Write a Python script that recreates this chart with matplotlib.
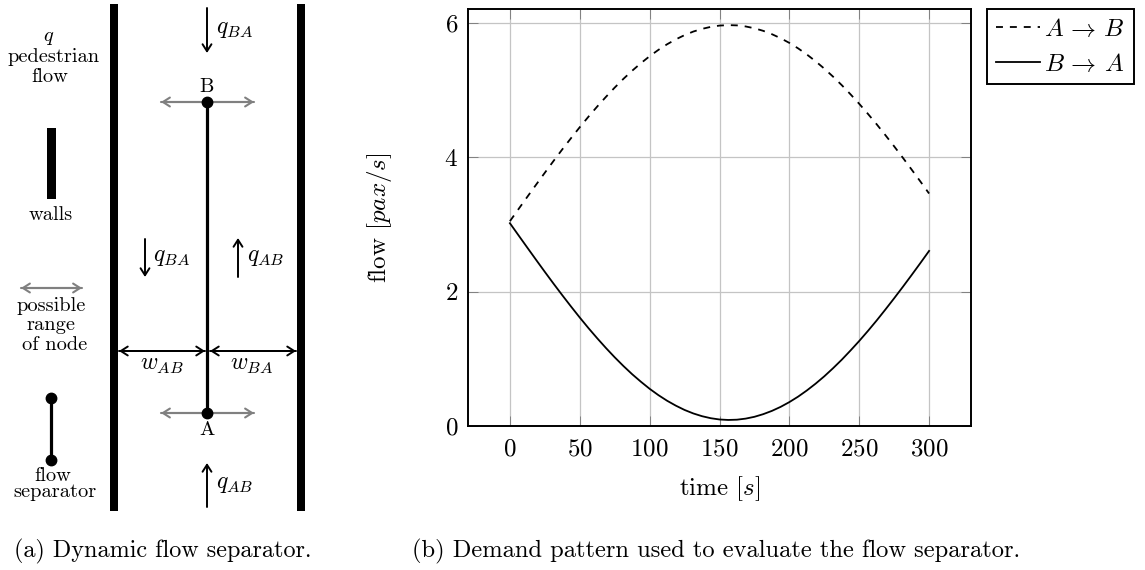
import matplotlib
matplotlib.use("Agg")
import matplotlib.pyplot as plt
from matplotlib.patches import FancyArrowPatch, Rectangle

plt.rcParams['font.family'] = ['cmr10', 'DejaVu Sans']
plt.rcParams['mathtext.fontset'] = 'cm'
plt.rcParams['axes.formatter.use_mathtext'] = True
plt.rcParams['lines.scale_dashes'] = False

# ---- chart data ----
time_s = [0, 6.25, 12.5, 18.75, 25, 31.25, 37.5, 43.75, 50, 56.25, 62.5, 68.75, 75, 81.25, 87.5, 93.75,
          100, 106.25, 112.5, 118.75, 125, 131.25, 137.5, 143.75, 150, 156.25, 162.5, 168.75, 175,
          181.25, 187.5, 193.75, 200, 206.25, 212.5, 218.75, 225, 231.25, 237.5, 243.75, 250, 256.25,
          262.5, 268.75, 275, 281.25, 287.5, 293.75, 300]
flow_ab = [3.050, 3.233, 3.414, 3.594, 3.772, 3.948, 4.120, 4.287, 4.450, 4.607, 4.758, 4.902, 5.040,
           5.170, 5.291, 5.403, 5.507, 5.601, 5.685, 5.758, 5.821, 5.874, 5.914, 5.944, 5.963, 5.970,
           5.966, 5.950, 5.923, 5.885, 5.835, 5.775, 5.705, 5.624, 5.533, 5.432, 5.322, 5.203, 5.076,
           4.940, 4.798, 4.648, 4.493, 4.331, 4.165, 3.994, 3.819, 3.642, 3.462]
flow_ba = [3.020, 2.837, 2.655, 2.474, 2.295, 2.119, 1.947, 1.779, 1.615, 1.457, 1.306, 1.161, 1.023,
           0.893, 0.771, 0.659, 0.554, 0.460, 0.376, 0.303, 0.239, 0.187, 0.146, 0.116, 0.097, 0.090,
           0.094, 0.110, 0.137, 0.176, 0.225, 0.285, 0.356, 0.437, 0.529, 0.630, 0.740, 0.860, 0.987,
           1.124, 1.266, 1.416, 1.572, 1.735, 1.902, 2.073, 2.248, 2.426, 2.607]
x_ticks = [0, 50, 100, 150, 200, 250, 300]
y_ticks = [0, 2, 4, 6]

# ---- diagram geometry (pixel coordinates of the schematic) ----
walls = [(109.5, 4, 8.5, 507), (296.5, 4, 8.5, 507), (47, 128, 9, 71)]
separators = [(207, 102, 413), (51, 398, 460)]
black_arrows = [(207, 8, 207, 53), (145, 239, 145, 277), (238, 277, 238, 238),
                (207, 507, 207, 463), (205, 351, 119, 351), (119, 351, 205, 351),
                (210, 351, 296, 351), (296, 351, 210, 351)]
gray_arrows = [(161, 102, 254, 102), (254, 102, 161, 102),
               (161, 413, 254, 413), (254, 413, 161, 413),
               (21, 288, 82, 288), (82, 288, 21, 288)]
math_labels = [(216, 29, r'$q_{BA}$'), (153, 257, r'$q_{BA}$'), (247, 257, r'$q_{AB}$'),
               (216, 484, r'$q_{AB}$'), (162, 365, r'$w_{AB}$'), (252, 365, r'$w_{BA}$')]
plain_labels = [(49, 38, r'$q$'), (54, 57, 'pedestrian'), (50, 77, 'flow'), (51, 215, 'walls'),
                (51, 306, 'possible'), (51, 325, 'range'), (55, 345, 'of node'),
                (207, 87, 'B'), (207, 430, 'A'), (53, 476, 'flow'), (55, 492, 'separator')]

fig = plt.figure(figsize=(11.45, 5.7), dpi=100)
W, H = 1145.0, 570.0

# schematic layer
bg = fig.add_axes([0, 0, 1, 1])
bg.set_xlim(0, W)
bg.set_ylim(H, 0)
bg.axis('off')
for x, y, w, h in walls:
    bg.add_patch(Rectangle((x, y), w, h, color='black', lw=0))
for x, y0, y1 in separators:
    bg.plot([x, x], [y0, y1], color='black', lw=2.3, marker='o', ms=7.5, zorder=4)
for x0, y0, x1, y1 in gray_arrows:
    bg.add_patch(FancyArrowPatch((x0, y0), (x1, y1), arrowstyle='->,head_length=5,head_width=3.2',
                                 color='#808080', lw=1.5, shrinkA=0, shrinkB=0, mutation_scale=1, zorder=3))
for x0, y0, x1, y1 in black_arrows:
    bg.add_patch(FancyArrowPatch((x0, y0), (x1, y1), arrowstyle='->,head_length=5,head_width=3.2',
                                 color='black', lw=1.4, shrinkA=0, shrinkB=0, mutation_scale=1, zorder=3))
for x, y, s in math_labels:
    ha = 'left' if x in (216, 153, 247) else 'center'
    bg.text(x, y, s, fontsize=17, ha=ha, va='center')
for x, y, s in plain_labels:
    bg.text(x, y, s, fontsize=14.7, ha='center', va='center')
bg.text(14, 551, '(a) Dynamic flow separator.', fontsize=17.4, ha='left', va='center')
bg.text(412, 551, '(b) Demand pattern used to evaluate the flow separator.', fontsize=17.6, ha='left', va='center')

# demand chart
ax = fig.add_axes([468 / W, 1 - 426 / H, (971 - 468) / W, (426 - 9) / H])
ax.patch.set_alpha(0)
ax.plot(time_s, flow_ab, color='black', lw=1.3, ls=(0, (5, 5)), label=r'$A\,\rightarrow\,B$', zorder=3)
ax.plot(time_s, flow_ba, color='black', lw=1.3, label=r'$B\,\rightarrow\,A$', zorder=3)
ax.set_xlim(-30, 330)
ax.set_ylim(0, 6.21)
ax.set_xticks(x_ticks)
ax.set_yticks(y_ticks)
ax.grid(True, color='#c4c4c4', lw=0.9)
ax.set_axisbelow(True)
ax.tick_params(direction='in', length=7, width=0.7, color='#808080', top=True, right=True,
               labelsize=18, pad=9)
ax.tick_params(axis='y', pad=7)
for s in ax.spines.values():
    s.set_linewidth(1.4)
ax.set_xlabel(r'time $[s]$', fontsize=18, labelpad=10)
ax.set_ylabel(r'flow $[pax/s]$', fontsize=18, labelpad=36)

leg = ax.legend(loc='upper left', bbox_to_anchor=(987 / W, 1 - 9 / H), bbox_transform=fig.transFigure,
                borderaxespad=0, fontsize=18, fancybox=False, framealpha=1, edgecolor='black',
                handlelength=1.75, handletextpad=0.2, borderpad=0.35, labelspacing=0.47)
leg.get_frame().set_linewidth(1.4)

fig.savefig('out.png', dpi=100)
